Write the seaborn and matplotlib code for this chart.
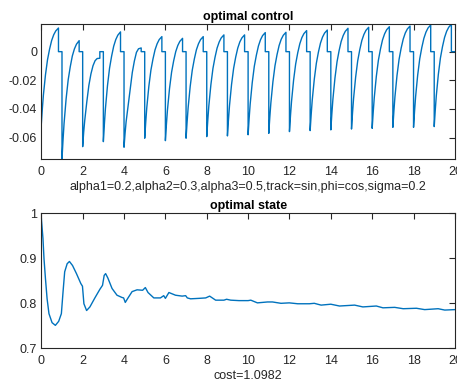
import numpy as np
import pandas as pd
import matplotlib
matplotlib.use("Agg")
import matplotlib.pyplot as plt
import seaborn as sns

# ---------------- data ----------------
# offsets inside each unit period where the control values are sampled
seg_s = [0.0, 0.05, 0.1, 0.2, 0.3, 0.4, 0.5, 0.6, 0.7, 0.83]
# control values per period; after the peak the control is 0
control_segments = [
    [-0.0505, -0.0398, -0.0304, -0.0163, -0.0056, 0.0018, 0.0078, 0.0118, 0.0145, 0.0165],
    [-0.0749, -0.0617, -0.0501, -0.0328, -0.0196, -0.0105, -0.0030, 0.0019, 0.0052, 0.0077],
    [-0.0663, -0.0560, -0.0480, -0.0350, -0.0235, -0.0155, -0.0098, -0.0063, -0.0048, -0.0046],
    [-0.0628, -0.0505, -0.0398, -0.0237, -0.0115, -0.0031, 0.0038, 0.0084, 0.0115, 0.0138],
    [-0.0667, -0.0570, -0.0490, -0.0375, -0.0260, -0.0145, -0.0065, -0.0005, 0.0020, 0.0026],
    [-0.0604, -0.0491, -0.0391, -0.0242, -0.0129, -0.0051, 0.0013, 0.0055, 0.0084, 0.0105],
    [-0.0621, -0.0507, -0.0407, -0.0257, -0.0143, -0.0064, 0.0000, 0.0043, 0.0072, 0.0093],
    [-0.0604, -0.0491, -0.0391, -0.0242, -0.0129, -0.0051, 0.0013, 0.0055, 0.0084, 0.0105],
    [-0.0593, -0.0479, -0.0380, -0.0231, -0.0117, -0.0039, 0.0025, 0.0067, 0.0096, 0.0117],
    [-0.0588, -0.0475, -0.0377, -0.0228, -0.0116, -0.0038, 0.0025, 0.0068, 0.0096, 0.0117],
    [-0.0580, -0.0466, -0.0366, -0.0216, -0.0102, -0.0024, 0.0040, 0.0083, 0.0112, 0.0133],
    [-0.0570, -0.0457, -0.0359, -0.0210, -0.0098, -0.0020, 0.0043, 0.0086, 0.0114, 0.0135],
    [-0.0558, -0.0445, -0.0347, -0.0198, -0.0086, -0.0008, 0.0055, 0.0098, 0.0126, 0.0147],
    [-0.0551, -0.0439, -0.0340, -0.0193, -0.0081, -0.0003, 0.0060, 0.0102, 0.0130, 0.0151],
    [-0.0546, -0.0433, -0.0333, -0.0184, -0.0071, 0.0007, 0.0071, 0.0113, 0.0142, 0.0163],
    [-0.0540, -0.0426, -0.0327, -0.0178, -0.0064, 0.0014, 0.0078, 0.0120, 0.0149, 0.0170],
    [-0.0535, -0.0422, -0.0322, -0.0173, -0.0060, 0.0018, 0.0082, 0.0124, 0.0153, 0.0174],
    [-0.0528, -0.0415, -0.0316, -0.0167, -0.0054, 0.0024, 0.0087, 0.0130, 0.0158, 0.0179],
    [-0.0528, -0.0414, -0.0314, -0.0164, -0.0050, 0.0029, 0.0093, 0.0136, 0.0165, 0.0186],
    [-0.0523, -0.0409, -0.0309, -0.0158, -0.0044, 0.0035, 0.0099, 0.0142, 0.0170, 0.0192],
]

state_t = [0, 0.08, 0.13, 0.2, 0.28, 0.37, 0.52, 0.68, 0.84, 0.97, 1.05, 1.13, 1.25, 1.36,
           1.51, 1.70, 1.91, 1.99, 2.06, 2.19, 2.35, 2.59, 2.83, 2.96, 3.04, 3.11, 3.22,
           3.42, 3.66, 3.90, 3.98, 4.06, 4.18, 4.39, 4.63, 4.90, 5.03, 5.16, 5.44, 5.76,
           5.92, 6.0, 6.17, 6.49, 6.81, 6.98, 7.06, 7.22, 7.62, 7.95, 8.14, 8.43, 8.83,
           8.96, 9.16, 9.56, 10.0, 10.13, 10.45, 10.94, 11.18, 11.59, 11.99, 12.4, 12.96,
           13.2, 13.53, 14.0, 14.42, 15.15, 15.55, 16.2, 16.52, 17.09, 17.5, 18.14, 18.54,
           19.19, 19.51, 20.0]
state_v = [0.99, 0.944, 0.899, 0.855, 0.810, 0.777, 0.757, 0.751, 0.760, 0.777, 0.825, 0.870,
           0.888, 0.893, 0.884, 0.866, 0.844, 0.838, 0.799, 0.784, 0.792, 0.812, 0.831, 0.840,
           0.862, 0.866, 0.856, 0.833, 0.818, 0.813, 0.812, 0.802, 0.811, 0.826, 0.830, 0.829,
           0.835, 0.824, 0.812, 0.812, 0.817, 0.811, 0.824, 0.818, 0.816, 0.817, 0.812, 0.810,
           0.811, 0.812, 0.816, 0.807, 0.807, 0.809, 0.807, 0.806, 0.806, 0.807, 0.801, 0.803,
           0.803, 0.800, 0.801, 0.799, 0.799, 0.800, 0.796, 0.798, 0.794, 0.796, 0.792, 0.794,
           0.790, 0.791, 0.788, 0.789, 0.786, 0.788, 0.785, 0.786]

x_ticks = [0, 2, 4, 6, 8, 10, 12, 14, 16, 18, 20]
top_yticks = [-0.06, -0.04, -0.02, 0]
top_yticklabels = ["-0.06", "-0.04", "-0.02", "0"]
bot_yticks = [0.7, 0.8, 0.9, 1.0]
bot_yticklabels = ["0.7", "0.8", "0.9", "1"]
top_title = "optimal control"
top_xlabel = "alpha1=0.2,alpha2=0.3,alpha3=0.5,track=sin,phi=cos,sigma=0.2"
bot_title = "optimal state"
bot_xlabel = "cost=1.0982"

# build control series (period samples, then zero plateau)
ctrl_t, ctrl_v = [], []
for k, seg in enumerate(control_segments):
    ctrl_t += [k + s for s in seg_s] + [k + seg_s[-1], k + 1.0]
    ctrl_v += list(seg) + [0.0, 0.0]
ctrl_df = pd.DataFrame({"t": ctrl_t, "u": ctrl_v})
state_df = pd.DataFrame({"t": state_t, "x": state_v})

# ---------------- style ----------------
sns.set_theme(style="white")
plt.rcParams["font.family"] = ["Liberation Sans", "DejaVu Sans"]
plt.rcParams["axes.unicode_minus"] = False

line_color = "#0072BD"
axis_color = "#262626"
fs = 9

fig = plt.figure(figsize=(4.57, 3.81), dpi=100)
fig.patch.set_facecolor("white")
ax1 = fig.add_axes([0.0904, 0.5827, 0.905, 0.3543])
ax2 = fig.add_axes([0.0904, 0.0858, 0.905, 0.3543])

sns.lineplot(data=ctrl_df, x="t", y="u", ax=ax1, color=line_color, linewidth=1.0,
             estimator=None, sort=False)
sns.lineplot(data=state_df, x="t", y="x", ax=ax2, color=line_color, linewidth=1.0,
             estimator=None, sort=False)

for ax in (ax1, ax2):
    ax.set_xlim(0, 20)
    ax.set_xticks(x_ticks)
    ax.set_xticklabels([str(v) for v in x_ticks])
    ax.tick_params(axis="both", direction="in", length=4, width=0.8, colors=axis_color,
                   labelsize=fs, top=True, right=True)
    ax.tick_params(axis="x", pad=5)
    ax.tick_params(axis="y", pad=3)
    for sp in ax.spines.values():
        sp.set_visible(True)
        sp.set_color(axis_color)
        sp.set_linewidth(0.8)
    ax.set_facecolor("white")
    ax.grid(False)

ax1.set_ylim(-0.0749, 0.0193)
ax1.set_yticks(top_yticks)
ax1.set_yticklabels(top_yticklabels)
ax1.set_title(top_title, fontsize=fs, fontweight="bold", color="black", pad=3)
ax1.set_xlabel(top_xlabel, fontsize=fs, color=axis_color, labelpad=2)
ax1.set_ylabel("")

ax2.set_ylim(0.7, 1.0)
ax2.set_yticks(bot_yticks)
ax2.set_yticklabels(bot_yticklabels)
ax2.set_title(bot_title, fontsize=fs, fontweight="bold", color="black", pad=3)
ax2.set_xlabel(bot_xlabel, fontsize=fs, color=axis_color, labelpad=2)
ax2.set_ylabel("")

fig.savefig("out.png", dpi=100, facecolor="white")
